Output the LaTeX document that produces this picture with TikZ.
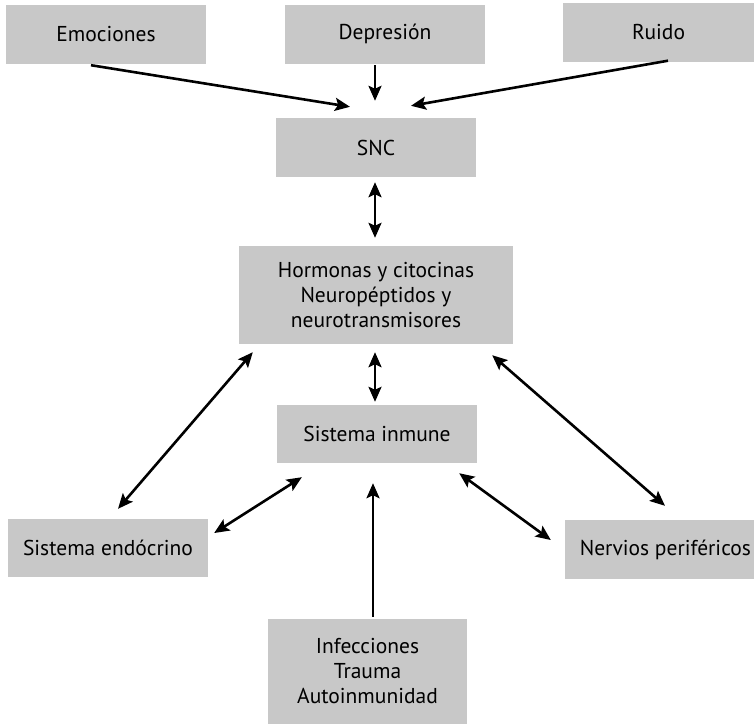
\documentclass[tikz,border=0pt]{standalone}
\usepackage{fontspec}
\setmainfont{PT Sans}
\usetikzlibrary{arrows.meta}
\definecolor{boxgray}{RGB}{200,200,200}
\begin{document}
\begin{tikzpicture}[x=1pt,y=-1pt,
  box/.style={fill=boxgray, draw=none, minimum width=200pt, minimum height=59pt, inner sep=2pt, align=center,
    font=\fontsize{21.5}{25}\selectfont},
  arr/.style={line width=2.6pt, -{Stealth[length=15pt,width=13pt,inset=3pt]}},
  darr/.style={line width=2.6pt, {Stealth[length=15pt,width=13pt,inset=3pt]}-{Stealth[length=15pt,width=13pt,inset=3pt]}}]
\useasboundingbox (0,0) rectangle (754,724);
\node[box] (emo) at (106,34) {Emociones};
\node[box] (dep) at (385,34) {Depresión};
\node[box, minimum width=191pt] (ruido) at (658.5,32) {Ruido};
\node[box] (snc) at (376,147.5) {SNC};
\node[box, minimum width=274pt, minimum height=98pt] (horm) at (376,295) {Hormonas y citocinas\\Neuropéptidos y\\neurotransmisores};
\node[box, minimum height=58pt] (inm) at (377,434) {Sistema inmune};
\node[box, minimum height=58pt] (endo) at (108,548) {Sistema endócrino};
\node[box, minimum width=189pt] (nerv) at (659.5,549.5) {\makebox[183pt][r]{Nervios periféricos}};
\node[box, minimum width=199pt, minimum height=105pt] (inf) at (367.5,671.5) {Infecciones\\Trauma\\Autoinmunidad};

\draw[arr] ([xshift=-15pt,yshift=-1.5pt]emo.south) -- ([xshift=-26pt,yshift=11pt]snc.north);
\draw[arr] ([xshift=-10pt,yshift=-1.5pt]dep.south) -- ([xshift=-1pt,yshift=17pt]snc.north);
\draw[arr] ([xshift=9.5pt,yshift=1pt]ruido.south) -- ([xshift=35pt,yshift=12pt]snc.north);
\draw[darr] ([xshift=-1pt,yshift=-5pt]snc.south) -- ([xshift=-1pt,yshift=8pt]horm.north);
\draw[darr] ([xshift=-1pt,yshift=-8pt]horm.south) -- ([xshift=-2pt,yshift=3pt]inm.north);
\draw[darr] ([xshift=14pt,yshift=-8pt]horm.south west) -- ([xshift=10pt,yshift=10pt]endo.north);
\draw[darr] ([xshift=-21pt,yshift=-11pt]horm.south east) -- ([xshift=5.5pt,yshift=14pt]nerv.north);
\draw[darr] ([xshift=25pt,yshift=-14pt]inm.south west) -- ([xshift=6pt,yshift=15pt]endo.east);
\draw[darr] ([xshift=-18pt,yshift=-10pt]inm.south east) -- ([xshift=-14pt,yshift=9.5pt]nerv.west);
\draw[arr] ([xshift=5.5pt,yshift=2pt]inf.north) -- ([xshift=-4pt,yshift=-20pt]inm.south);
\end{tikzpicture}
\end{document}
